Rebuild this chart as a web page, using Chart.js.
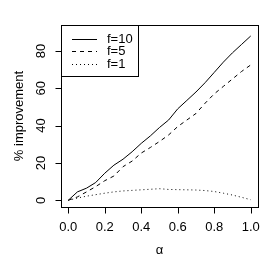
<!DOCTYPE html>
<html>
<head>
<meta charset="utf-8">
<script src="https://cdn.jsdelivr.net/npm/chart.js@4.4.1/dist/chart.umd.min.js"></script>
<style>
  html, body { margin: 0; padding: 0; background: #fff; }
  #wrap { width: 270px; height: 257px; position: relative; }
</style>
</head>
<body>
<div id="wrap"><canvas id="graficoMejora"></canvas></div>
<script>
// alpha values on the x axis
const alphas = [0, 0.05, 0.1, 0.15, 0.2, 0.25, 0.3, 0.35, 0.4, 0.45, 0.5,
                0.55, 0.6, 0.65, 0.7, 0.75, 0.8, 0.85, 0.9, 0.95, 1.0];
// % improvement per series
const f10 = [0, 4.5, 6.5, 9.5, 14.5, 18.8, 22, 26, 30.5, 34.5, 39,
             43, 49, 53.5, 58, 63, 68.5, 74, 79, 83.5, 88];
const f5 = [0, 1.8, 4.5, 7.3, 10.5, 13, 18, 21, 25.3, 28.3, 31.5,
            35, 39.5, 43, 46.5, 52, 57, 61, 65, 69, 72.5];
const f1 = [0, 1.2, 2.2, 3, 3.8, 4.5, 5, 5.3, 5.6, 5.9, 6.2,
            5.8, 5.7, 5.6, 5.5, 5.2, 4.7, 3.8, 2.8, 1.6, 0.3];
const xTicks = [0, 0.2, 0.4, 0.6, 0.8, 1.0];
const yTicks = [0, 20, 40, 60, 80];

const FONT = '13px "Liberation Sans", Arial, Helvetica, sans-serif';

const pts = ys => alphas.map((a, i) => ({ x: a, y: ys[i] }));

// box, axes, labels and legend drawn the R way
const rPlot = {
  id: 'rPlot',
  afterDraw(chart) {
    const { ctx, chartArea: a, scales: { x, y } } = chart;
    ctx.save();
    ctx.strokeStyle = '#000';
    ctx.fillStyle = '#000';
    ctx.lineWidth = 1;
    ctx.font = FONT;

    // box
    ctx.strokeRect(Math.round(a.left) + 0.5, Math.round(a.top) + 0.5,
                   Math.round(a.right - a.left), Math.round(a.bottom - a.top));

    // x axis
    const yb = Math.round(a.bottom) + 0.5;
    ctx.beginPath();
    ctx.moveTo(Math.round(x.getPixelForValue(xTicks[0])) + 0.5, yb);
    ctx.lineTo(Math.round(x.getPixelForValue(xTicks[xTicks.length - 1])) + 0.5, yb);
    xTicks.forEach(v => {
      const px = Math.round(x.getPixelForValue(v)) + 0.5;
      ctx.moveTo(px, yb);
      ctx.lineTo(px, yb + 6);
    });
    ctx.stroke();
    ctx.textAlign = 'center';
    ctx.textBaseline = 'middle';
    xTicks.forEach(v => ctx.fillText(v.toFixed(1), x.getPixelForValue(v), a.bottom + 20));
    ctx.fillText('\u03B1', (a.left + a.right) / 2, a.bottom + 43);

    // y axis
    const xl = Math.round(a.left) + 0.5;
    ctx.beginPath();
    ctx.moveTo(xl, Math.round(y.getPixelForValue(yTicks[0])) + 0.5);
    ctx.lineTo(xl, Math.round(y.getPixelForValue(yTicks[yTicks.length - 1])) + 0.5);
    yTicks.forEach(v => {
      const py = Math.round(y.getPixelForValue(v)) + 0.5;
      ctx.moveTo(xl, py);
      ctx.lineTo(xl - 6, py);
    });
    ctx.stroke();
    yTicks.forEach(v => {
      ctx.save();
      ctx.translate(a.left - 20, y.getPixelForValue(v));
      ctx.rotate(-Math.PI / 2);
      ctx.fillText(String(v), 0, 0);
      ctx.restore();
    });
    ctx.save();
    ctx.translate(19, (a.top + a.bottom) / 2);
    ctx.rotate(-Math.PI / 2);
    ctx.fillText('% improvement', 0, 0);
    ctx.restore();

    // legend
    const lx = Math.round(a.left) + 0.5, ly = Math.round(a.top) + 0.5;
    ctx.fillStyle = '#fff';
    ctx.fillRect(lx, ly, 77, 51);
    ctx.strokeRect(lx, ly, 77, 51);
    ctx.fillStyle = '#000';
    ctx.textAlign = 'left';
    chart.data.datasets.forEach((ds, i) => {
      const ry = Math.round(a.top + 13.5 + i * 12.5) + 0.5;
      ctx.save();
      ctx.strokeStyle = ds.borderColor;
      ctx.setLineDash(ds.borderDash || []);
      ctx.beginPath();
      ctx.moveTo(a.left + 11, ry);
      ctx.lineTo(a.left + 36, ry);
      ctx.stroke();
      ctx.restore();
      ctx.fillText(ds.label, a.left + 46, ry);
    });
    ctx.restore();
  }
};

const ctxMejora = document.getElementById('graficoMejora').getContext('2d');
new Chart(ctxMejora, {
  type: 'line',
  data: {
    datasets: [
      { label: 'f=10', data: pts(f10), borderColor: '#000', borderWidth: 1, pointRadius: 0, tension: 0 },
      { label: 'f=5', data: pts(f5), borderColor: '#000', borderWidth: 1, borderDash: [4, 4], pointRadius: 0, tension: 0 },
      { label: 'f=1', data: pts(f1), borderColor: '#000', borderWidth: 1, borderDash: [1, 3], pointRadius: 0, tension: 0 }
    ]
  },
  options: {
    responsive: true,
    maintainAspectRatio: false,
    animation: false,
    layout: { padding: { left: 61, top: 25, right: 12, bottom: 50 } },
    plugins: { legend: { display: false }, tooltip: { enabled: false } },
    scales: {
      x: { type: 'linear', min: -0.04, max: 1.04, display: false },
      y: { min: -3.6, max: 93.9, display: false }
    }
  },
  plugins: [rPlot]
});
</script>
</body>
</html>
